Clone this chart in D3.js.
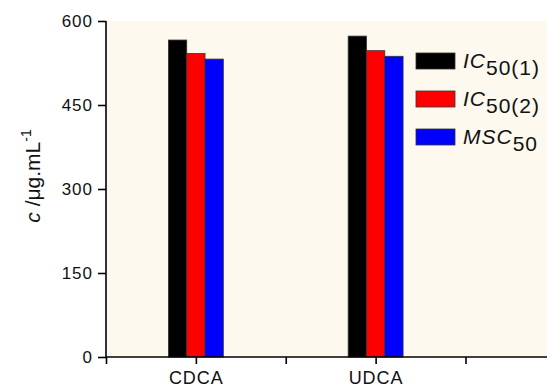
<!DOCTYPE html>
<html lang="en">
<head>
  <meta charset="UTF-8">
  <script src="https://d3js.org/d3.v7.min.js"></script>
  <title>IC50 chart</title>
  <style>
    body { margin: 0; padding: 0; background: #fff; }
    text { font-family: "Liberation Sans", Arial, sans-serif; fill: #111; }
  </style>
</head>
<body>
  <div id="chart"></div>
  <script>
    let width = 547,
      height = 389;

    // data
    let categories = ["CDCA", "UDCA"]
    let seriesNames = ["IC50(1)", "IC50(2)", "MSC50"]
    let seriesColors = ["#000000", "#ff0000", "#0000ff"]
    let ic50_1 = [566, 573]
    let ic50_2 = [542, 547]
    let msc50 = [532, 537]
    let yTicks = [0, 150, 300, 450, 600]

    let values = [ic50_1, ic50_2, msc50]

    let svg = d3.select("#chart").append("svg")
      .attr("width", width)
      .attr("height", height)

    // x positions: categories at 1, 2; axis from 0.5
    let x = d3.scaleLinear().domain([0.5, 2.5]).range([106, 465.5])
    let y = d3.scaleLinear().domain([0, 600]).range([357, 21])

    // plot background
    svg.append("rect")
      .attr("x", x(0.5)).attr("y", y(600))
      .attr("width", width - x(0.5)).attr("height", y(0) - y(600))
      .attr("fill", "#fdf9ee")

    let barW = 18.3
    let gBars = svg.append("g")
    values.forEach((vals, s) => {
      gBars.selectAll(".bar" + s).data(vals).enter().append("rect")
        .attr("x", (d, i) => x(i + 1) + (s - 1.5) * barW)
        .attr("y", d => y(d))
        .attr("width", barW)
        .attr("height", d => y(0) - y(d))
        .attr("fill", seriesColors[s])
        .attr("stroke", "#333")
        .attr("stroke-width", 0.8)
    })

    // y axis
    let yAxis = d3.axisLeft(y).tickValues(yTicks).tickSize(8).tickPadding(5)
    let gy = svg.append("g").attr("transform", `translate(${x(0.5)},0)`).call(yAxis)
    gy.select(".domain").attr("stroke", "#000").attr("stroke-width", 1.6)
      .attr("d", `M0,${y(600)}V${y(0) + 1}`)
    gy.selectAll(".tick line").attr("stroke", "#000").attr("stroke-width", 1.6)
    gy.selectAll(".tick text").style("font-size", "17px").style("letter-spacing", "1px")
      .attr("fill", "#111").attr("dy", "0.35em")

    // x axis
    let xMajor = d3.axisBottom(x).tickValues([1, 2]).tickFormat((d, i) => categories[i])
      .tickSize(7).tickPadding(7)
    let gx = svg.append("g").attr("transform", `translate(0,${y(0)})`).call(xMajor)
    gx.select(".domain").attr("stroke", "#000").attr("stroke-width", 1.6)
      .attr("d", `M${x(0.5)},0H${width}`)
    gx.selectAll(".tick line").attr("stroke", "#000").attr("stroke-width", 1.6)
    gx.selectAll(".tick text").style("font-size", "18px").style("letter-spacing", "1px")
      .attr("fill", "#111")
    let xMinor = d3.axisBottom(x).tickValues([0.5, 1.5, 2.5]).tickFormat("").tickSize(7)
    let gx2 = svg.append("g").attr("transform", `translate(0,${y(0)})`).call(xMinor)
    gx2.select(".domain").remove()
    gx2.selectAll(".tick line").attr("stroke", "#000").attr("stroke-width", 1.6)

    // y label
    let yl = svg.append("text")
      .attr("transform", "translate(40,176) rotate(-90)")
      .attr("text-anchor", "middle")
      .style("font-size", "21px")
    yl.append("tspan").style("font-style", "italic").text("c")
    yl.append("tspan").text(" /\u03bcg.mL")
    yl.append("tspan").attr("dy", -9).style("font-size", "14px").text("-1")

    // legend
    let legend = svg.append("g").attr("transform", "translate(416,53)")
    let labels = [["IC", "50(1)"], ["IC", "50(2)"], ["MSC", "50"]]
    labels.forEach((lab, i) => {
      let g = legend.append("g").attr("transform", `translate(0,${i * 38})`)
      g.append("rect").attr("width", 39).attr("height", 16)
        .attr("fill", seriesColors[i]).attr("stroke", "#333").attr("stroke-width", 0.8)
      let t = g.append("text").attr("x", 47).attr("y", 15).style("font-size", "21px")
        .style("letter-spacing", "1px")
      t.append("tspan").style("font-style", "italic").text(lab[0])
      t.append("tspan").attr("dy", 7).style("font-size", "21px").text(lab[1])
    })
  </script>
</body>
</html>
